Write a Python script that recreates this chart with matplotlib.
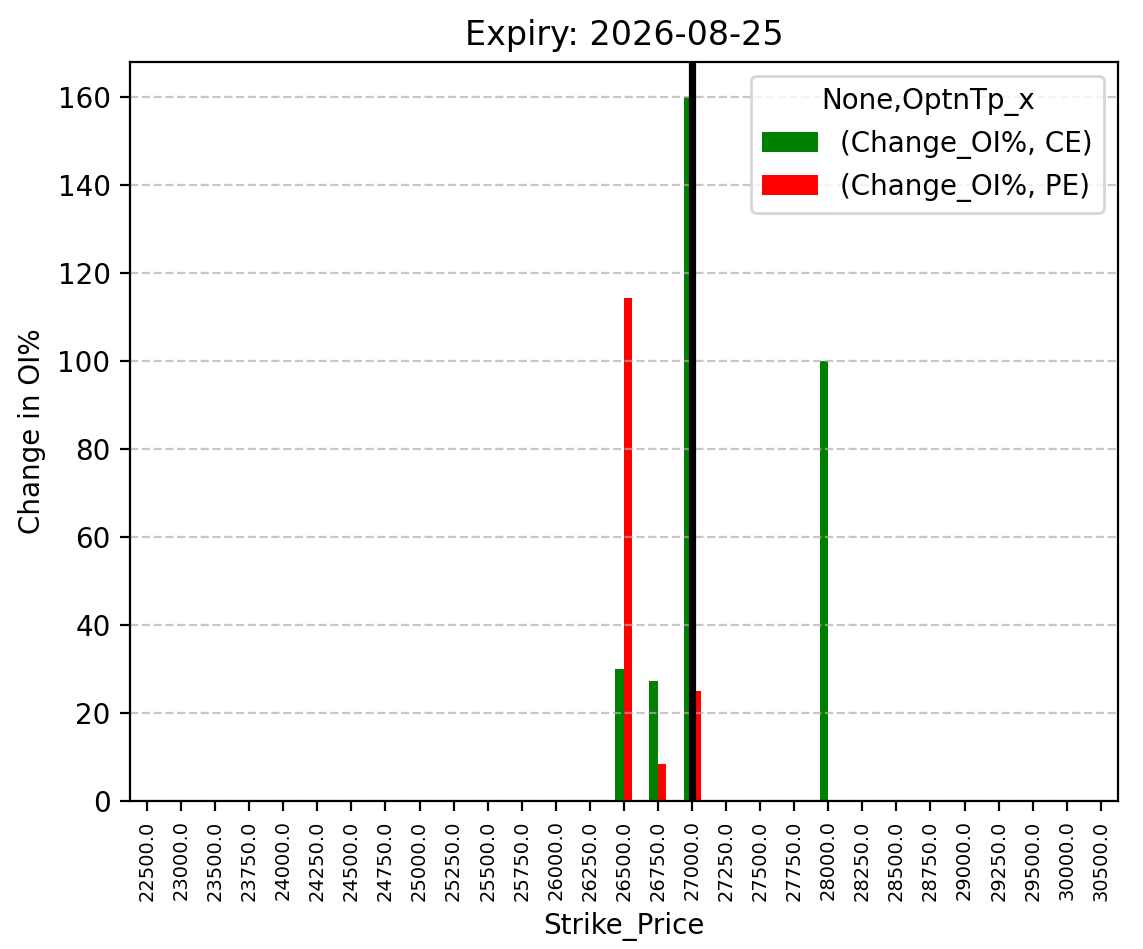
import numpy as np
import pandas as pd
import matplotlib
matplotlib.use("Agg")
from matplotlib import pyplot as plt

strikes = [22500.0, 23000.0, 23500.0, 23750.0, 24000.0, 24250.0, 24500.0, 24750.0,
           25000.0, 25250.0, 25500.0, 25750.0, 26000.0, 26250.0, 26500.0, 26750.0,
           27000.0, 27250.0, 27500.0, 27750.0, 28000.0, 28250.0, 28500.0, 28750.0,
           29000.0, 29250.0, 29500.0, 30000.0, 30500.0]
ce_chg = [0, 0, 0, 0, 0, 0, 0, 0, 0, 0, 0, 0, 0, 0, 30.0, 27.27,
          160.0, 0, 0, 0, 100.0, 0, 0, 0, 0, 0, 0, 0, 0]
pe_chg = [0, 0, 0, 0, 0, 0, 0, 0, 0, 0, 0, 0, 0, 0, 114.29, 8.33,
          25.0, 0, 0, 0, 0, 0, 0, 0, 0, 0, 0, 0, 0]
expiry = "2026-08-25"
atm_strike = 27000.0

cols = pd.MultiIndex.from_tuples([("Change_OI%", "CE"), ("Change_OI%", "PE")],
                                 names=[None, "OptnTp_x"])
df = pd.DataFrame(np.column_stack([ce_chg, pe_chg]), index=pd.Index(strikes, name="Strike_Price"),
                  columns=cols)

fig, ax = plt.subplots(figsize=(1143/200, 949/200), dpi=200)
fig.subplots_adjust(left=0.1137, right=0.978, top=0.9347, bottom=0.156)
df.plot(kind="bar", ax=ax, color=["green", "red"])
ax.axvline(strikes.index(atm_strike), color="black", linewidth=2.6)
ax.set_title("Expiry: " + expiry)
ax.set_ylabel("Change in OI%")
ax.set_xlabel("Strike_Price")
ax.tick_params(axis="x", labelsize=7)
ax.grid(axis="y", linestyle="--", alpha=0.7)
fig.savefig("out.png", dpi=200)
